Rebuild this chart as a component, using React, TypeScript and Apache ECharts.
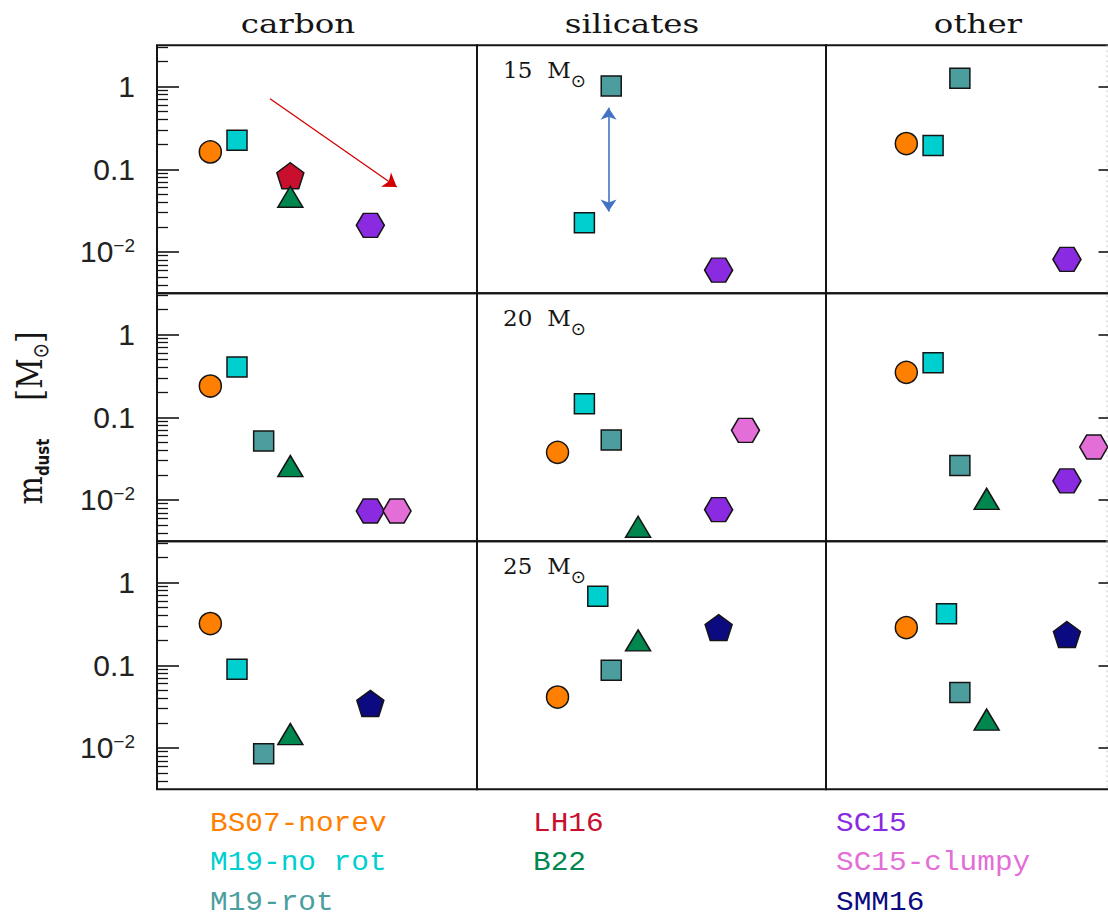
import React, { useEffect, useRef } from 'react';
import * as echarts from 'echarts';

// ---------------- data ----------------
const compositions = ['carbon', 'silicates', 'other'];
const stellarMasses = ['15', '20', '25'];
const models = ['BS07-norev', 'M19-no rot', 'M19-rot', 'LH16', 'B22', 'SC15', 'SC15-clumpy', 'SMM16'];
const modelColors = ['#ff8000', '#00cfcf', '#4c9e9e', '#c8102e', '#00874f', '#8a2be2', '#e36ed8', '#0c0a80'];

// dust mass [Msun]; panel order: 15 Msun (carbon, silicates, other), 20 Msun (...), 25 Msun (...)
const bs07Norev = [0.162, null, 0.205, 0.239, 0.0377, 0.35, 0.32, 0.0413, 0.286];
const m19NoRot = [0.224, 0.0226, 0.194, 0.406, 0.146, 0.458, 0.0895, 0.686, 0.419];
const m19Rot = [null, 1.02, 1.26, 0.0516, 0.0531, 0.0262, 0.0085, 0.087, 0.047];
const lh16 = [0.0836, null, null, null, null, null, null, null, null];
const b22 = [0.0465, null, null, 0.0257, 0.00475, 0.0103, 0.0147, 0.2, 0.022];
const sc15 = [0.021, 0.00603, 0.00813, 0.00735, 0.00764, 0.017, null, null, null];
const sc15Clumpy = [null, null, null, 0.00735, 0.0695, 0.0437, null, null, null];
const smm16 = [null, null, null, null, null, null, 0.0346, 0.286, 0.236];

// horizontal slot (arbitrary x) of each model in a panel
const modelSlots = [2, 3, 4, 5, 5, 8, 9, 8];
const m19NoRotSlots = [3, 3, 3, 3, 3, 3, 3, 3.5, 3.5];

// annotation arrows: [slot, mass]
const carbonTrendArrow = [[4.24, 0.715], [8.99, 0.061]];
const silicateRangeArrow = [[3.9, 0.556], [3.9, 0.0308]];

// y axis ticks
const yMajorTickValues = [0.01, 0.1, 1];
const yMajorTickLabels = ['{b|10}{s|\u22122}', '{b|0.1}', '{b|1}'];

const modelValues = [bs07Norev, m19NoRot, m19Rot, lh16, b22, sc15, sc15Clumpy, smm16];

// ---------------- styling / layout ----------------
const PENTAGON = 'path://M50 0L97.55 34.55L79.39 90.45L20.61 90.45L2.45 34.55Z';
const HEXAGON = 'path://M0 43.3L25 0L75 0L100 43.3L75 86.6L25 86.6Z';
const modelSymbols = ['circle', 'rect', 'rect', PENTAGON, 'triangle', HEXAGON, HEXAGON, PENTAGON];
const modelSymbolSizes = [[22, 22], [20, 20], [20, 20], [27, 26], [25, 21], [28, 24], [28, 24], [27, 26]];

const GRID_TOP = 45.3;
const ROW_H = 248;
const colLeft = [157, 477, 826];
const colWidth = [320, 349, 294.5];
const colXMin = [0, -1, -1];
const colXMax = [12, 12, 10];
const titleX = [298, 632, 978];
const legendColX = [210, 533, 836];
const legendRowY = [823, 862, 902];
const legendLayout = [[0, 1, 2], [3, 4], [5, 6, 7]];

const INK = '#151515';

function slotOf(mi: number, gi: number) {
  return mi === 1 ? m19NoRotSlots[gi] : modelSlots[mi];
}

function buildOption() {
  const yMajor = yMajorTickValues.map((v) => Math.log10(v));
  const yMinor: number[] = [];
  for (let e = -3; e <= 0; e++) {
    for (let k = 2; k <= 9; k++) {
      const v = Math.log10(k) + e;
      if (v > -2.5 && v < 0.5) yMinor.push(v);
    }
  }

  const grids: any[] = [];
  const xAxes: any[] = [];
  const yAxes: any[] = [];
  const series: any[] = [];
  const minorAxes: any[] = [];

  for (let r = 0; r < 3; r++) {
    for (let c = 0; c < 3; c++) {
      const gi = r * 3 + c;
      grids.push({
        left: colLeft[c],
        top: GRID_TOP + r * ROW_H,
        width: colWidth[c],
        height: ROW_H,
        show: true,
        borderColor: INK,
        borderWidth: 2,
        backgroundColor: 'transparent',
        containLabel: false,
        outerBoundsMode: 'none',
      });
      xAxes.push({
        type: 'value',
        gridIndex: gi,
        min: colXMin[c],
        max: colXMax[c],
        show: false,
      });
      yAxes.push({
        type: 'value',
        gridIndex: gi,
        min: -2.5,
        max: 0.5,
        show: c !== 1,
        position: c === 2 ? 'right' : 'left',
        axisLine: { show: false, onZero: false },
        splitLine: { show: false },
        axisTick: {
          show: c !== 1,
          inside: true,
          length: 22,
          customValues: yMajor,
          lineStyle: { color: INK, width: 1.6 },
        },
        axisLabel: {
          show: c === 0,
          customValues: yMajor,
          margin: 22,
          formatter: (v: number) => {
            const i = yMajor.findIndex((t) => Math.abs(t - v) < 1e-6);
            return i >= 0 ? yMajorTickLabels[i] : '';
          },
          rich: {
            b: { fontFamily: 'Liberation Sans', fontSize: 30, color: '#222', lineHeight: 32 },
            s: { fontFamily: 'Liberation Sans', fontSize: 19, color: '#222', lineHeight: 19, verticalAlign: 'top' },
          },
        },
      });
      if (c !== 1) {
        minorAxes.push({
          type: 'value',
          gridIndex: gi,
          min: -2.5,
          max: 0.5,
          position: c === 2 ? 'right' : 'left',
          axisLine: { show: false, onZero: false },
          splitLine: { show: false },
          axisLabel: { show: false },
          axisTick: {
            show: true,
            inside: true,
            length: 11,
            customValues: yMinor,
            lineStyle: { color: INK, width: 1.3 },
          },
        });
      }

      for (let mi = 0; mi < models.length; mi++) {
        const v = modelValues[mi][gi];
        if (v == null) continue;
        series.push({
          type: 'scatter',
          name: models[mi],
          xAxisIndex: gi,
          yAxisIndex: gi,
          data: [[slotOf(mi, gi), Math.log10(v)]],
          symbol: modelSymbols[mi],
          symbolSize: modelSymbolSizes[mi],
          itemStyle: { color: modelColors[mi], borderColor: INK, borderWidth: 1.5, opacity: 1 },
          z: 3 + mi,
          silent: true,
        });
      }
    }
  }

  // arrows
  series.push({
    type: 'lines',
    coordinateSystem: 'cartesian2d',
    xAxisIndex: 0,
    yAxisIndex: 0,
    data: [{ coords: carbonTrendArrow.map((p) => [p[0], Math.log10(p[1])]) }],
    symbol: ['none', 'arrow'],
    symbolSize: 13,
    lineStyle: { color: '#d20000', width: 1.3, opacity: 1 },
    silent: true,
    z: 2,
  });
  series.push({
    type: 'lines',
    coordinateSystem: 'cartesian2d',
    xAxisIndex: 1,
    yAxisIndex: 1,
    data: [{ coords: silicateRangeArrow.map((p) => [p[0], Math.log10(p[1])]) }],
    symbol: ['arrow', 'arrow'],
    symbolSize: 12,
    lineStyle: { color: '#4472c4', width: 1.6, opacity: 1 },
    silent: true,
    z: 2,
  });

  const graphics: any[] = [];
  // column titles
  compositions.forEach((t, c) => {
    graphics.push({
      type: 'text',
      x: titleX[c],
      y: 24,
      scaleX: 1.25,
      style: {
        text: t,
        fontFamily: 'DejaVu Serif',
        fontSize: 26,
        fill: INK,
        align: 'center',
        verticalAlign: 'middle',
      },
    });
  });
  // stellar mass labels
  stellarMasses.forEach((m, r) => {
    graphics.push({
      type: 'text',
      x: 503,
      y: GRID_TOP + r * ROW_H + 25,
      style: {
        text: `{n|${m}}{g| }{n|M}{s|\u2299}`,
        align: 'left',
        verticalAlign: 'middle',
        rich: {
          n: { fontFamily: 'DejaVu Serif', fontSize: 23, lineHeight: 38, fill: INK },
          g: { fontFamily: 'DejaVu Serif', fontSize: 23, width: 15, lineHeight: 38 },
          s: { fontFamily: 'DejaVu Sans', fontSize: 18, lineHeight: 18, verticalAlign: 'bottom', fill: INK },
        },
      },
    });
  });
  // y axis title
  graphics.push({
    type: 'text',
    x: 30,
    y: 418,
    rotation: Math.PI / 2,
    scaleY: 1.2,
    style: {
      text: '{m|m}{d|dust}{g| }{b|[M}{s|\u2299}{b|]}',
      align: 'center',
      verticalAlign: 'middle',
      rich: {
        m: { fontFamily: 'DejaVu Serif', fontSize: 30, lineHeight: 37, fill: INK },
        d: { fontFamily: 'DejaVu Sans', fontWeight: 'bold', fontSize: 15, lineHeight: 15, verticalAlign: 'bottom', fill: INK },
        g: { fontSize: 15, width: 38, lineHeight: 37 },
        b: { fontFamily: 'DejaVu Serif', fontSize: 30, lineHeight: 37, fill: INK },
        s: { fontFamily: 'DejaVu Sans', fontSize: 18, lineHeight: 18, verticalAlign: 'bottom', fill: INK },
      },
    },
  });
  // legend texts
  legendLayout.forEach((col, ci) => {
    col.forEach((mi, ri) => {
      graphics.push({
        type: 'text',
        x: legendColX[ci],
        y: legendRowY[ri],
        scaleX: 1.09,
        style: {
          text: models[mi],
          fontFamily: 'Liberation Mono',
          fontSize: 27,
          fill: modelColors[mi],
          align: 'left',
          verticalAlign: 'middle',
        },
      });
    });
  });
  // faint dotted edge at the right
  graphics.push({
    type: 'line',
    shape: { x1: 1107, y1: GRID_TOP, x2: 1107, y2: GRID_TOP + 3 * ROW_H },
    style: { stroke: '#c8c8c8', lineWidth: 1, lineDash: [2, 3] },
  });

  return {
    animation: false,
    backgroundColor: '#ffffff',
    grid: grids,
    xAxis: xAxes,
    yAxis: [...yAxes, ...minorAxes],
    series,
    graphic: graphics,
  };
}

export default function App() {
  const ref = useRef<HTMLDivElement>(null);
  useEffect(() => {
    if (!ref.current) return;
    const chart = echarts.init(ref.current, null, { renderer: 'svg' });
    chart.setOption(buildOption() as any);
    return () => chart.dispose();
  }, []);
  return (
    <div
      ref={ref}
      style={{ position: 'absolute', left: 0, top: 0, width: 1108, height: 917, background: '#fff' }}
    />
  );
}
